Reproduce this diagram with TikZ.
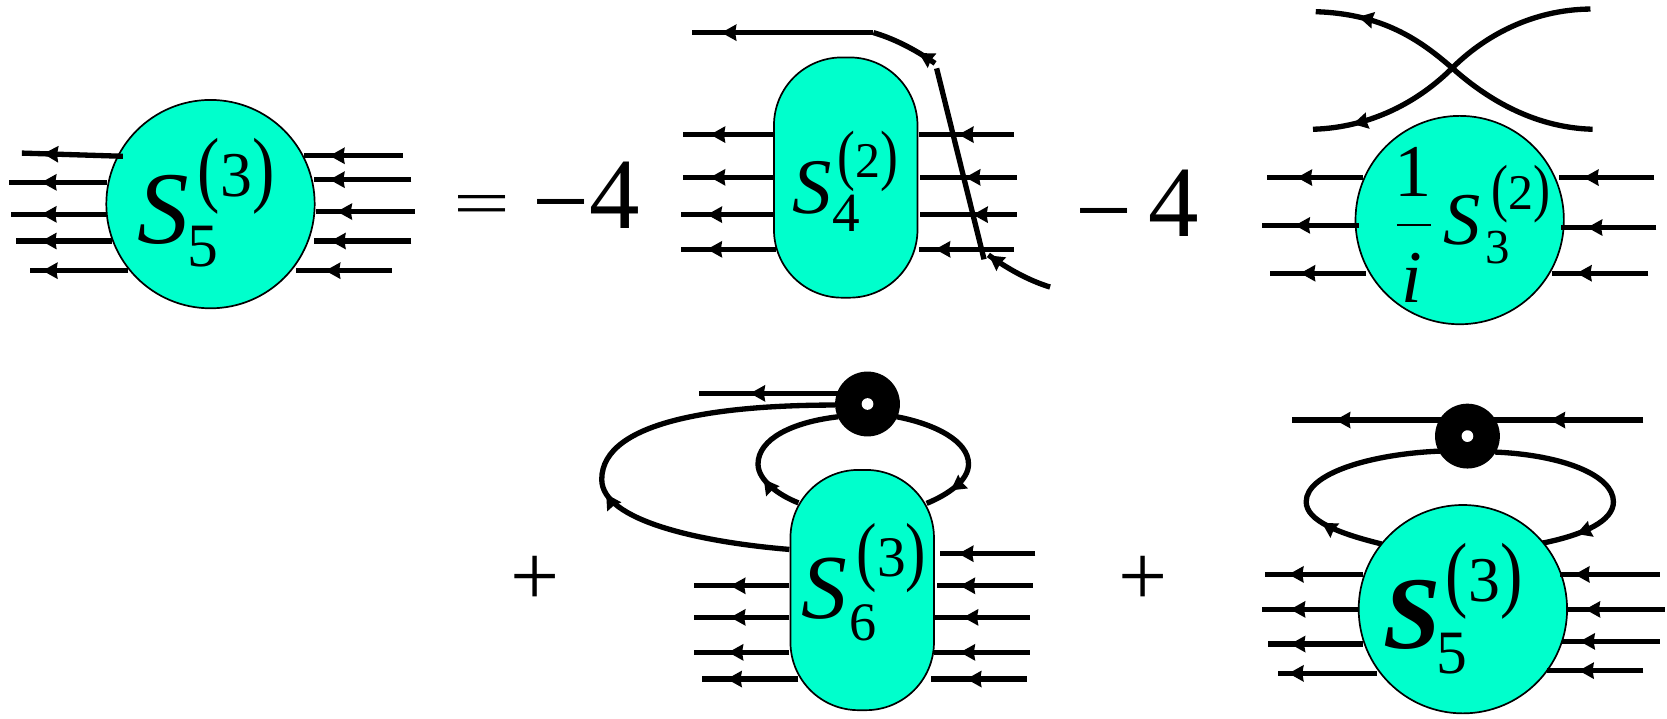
\documentclass[tikz,border=0pt]{standalone}
\usepackage{fontspec}
\setmainfont{Liberation Serif}
\usetikzlibrary{decorations.markings,arrows.meta}
\definecolor{blobc}{RGB}{0,255,204}
\tikzset{
  fline/.style={line width=5pt,draw=black},
  mk/.style={postaction={decorate},decoration={markings,mark=at position #1 with {\arrow{Stealth[length=14pt,width=15pt,inset=1pt]}}}},
  blob/.style={draw=black,line width=1.6pt,fill=blobc,inner sep=0pt},
  roundb/.style={circle,blob,minimum size=196pt},
  pillb/.style={rectangle,blob,minimum width=135pt,minimum height=226pt,rounded corners=64pt},
  dotb/.style={circle,fill=black,inner sep=0pt,minimum size=61pt},
  holeb/.style={circle,fill=white,inner sep=0pt,minimum size=11pt},
  txt/.style={anchor=base west,inner sep=0pt,outer sep=0pt,text=black}
}
\newcommand\fleg[5]{\coordinate (#1a) at (#3,#4); \coordinate (#1b) at (#2,#4); \pgfmathsetmacro\mypos{#3-#5+3}\draw[fline,mk=\mypos pt] (#1a) -- (#1b);}
\newcommand\lab[5]{\node[txt,font=\fontsize{#4}{#4}\selectfont] (#1) at (#2,#3) {#5};}
\newcommand\ilab[5]{\node[txt,font=\fontsize{#4}{#4}\selectfont\itshape] (#1) at (#2,#3) {#5};}
\newcommand\suplab[6]{\node[txt] (#1) at (#2,#3) {\fontsize{#4}{#4}\selectfont\scalebox{0.8}[1]{(}{\fontsize{#5}{#5}\selectfont #6}\scalebox{0.8}[1]{)}};}
\begin{document}
\begin{tikzpicture}[x=1pt,y=-1pt]
\useasboundingbox (0,0) rectangle (1568,676);
% ---------- loops that run behind the blobs
\coordinate (e1) at (742.5,516.8);
\coordinate (e2) at (785.4,381);
\coordinate (e3) at (751,473);
\coordinate (e4) at (788.5,392);
\coordinate (e5) at (843.4,392);
\coordinate (e6) at (871.6,473.5);
\coordinate (f1) at (1299.7,511.7);
\coordinate (f2) at (1354.6,424.3);
\coordinate (f3) at (1406.3,425.2);
\coordinate (f4) at (1450.2,511);
\draw[fline,mk=184pt] (e1) .. controls (660,510) and (566,490) .. (566,451) .. controls (566,395) and (680,381) .. (e2);
\draw[fline,mk=40pt] (e3) .. controls (733,466) and (713,452) .. (713,436.5) .. controls (713,413) and (745,397) .. (e4);
\draw[fline,mk=0.82] (e5) .. controls (880,399) and (911,415) .. (911,436.5) .. controls (911,452) and (892,465) .. (e6);
\draw[fline,mk=60pt] (f1) .. controls (1260,502) and (1228.6,490) .. (1228.6,472) .. controls (1228.6,445) and (1290,427) .. (f2);
\draw[fline,mk=0.84] (f3) .. controls (1470,428) and (1517.6,447) .. (1517.6,472) .. controls (1517.6,490) and (1490,503) .. (f4);
% ---------- blobs
\node[roundb] (b1) at (198,192) {};
\node[pillb] (b2) at (795.5,167) {};
\node[roundb] (b3) at (1373,207) {};
\node[pillb] (b4) at (811,555) {};
\node[roundb] (b5) at (1376,573) {};
% ---------- diagram 1 legs
\coordinate (s1a) at (115.6,147); \coordinate (s1b) at (20.6,144);
\draw[fline,mk=75pt] (s1a) -- (s1b);
\fleg{a2}{8}{101}{171.5}{42}
\fleg{a3}{10.7}{101}{201.6}{42}
\fleg{a4}{15.4}{105.7}{226.7}{42}
\fleg{a5}{28.5}{120.7}{254.6}{43}
\fleg{a6}{286}{379}{146.5}{313}
\fleg{a7}{295}{387}{169}{313}
\fleg{a8}{297}{390}{199}{320}
\fleg{a9}{295}{387}{226.7}{314}
\fleg{a10}{278}{368.6}{254.6}{309}
% ---------- diagram 2 legs
\fleg{c1}{642.8}{728.4}{126.6}{671}
\fleg{c2}{642.8}{728.4}{166.8}{671}
\fleg{c3}{640.3}{728.4}{201.9}{668}
\fleg{c4}{640.3}{730}{234.5}{668}
\fleg{c5}{864}{953.8}{126.6}{904.6}
\fleg{c6}{865.4}{956.3}{166.8}{911}
\fleg{c7}{865.4}{956.3}{201.9}{918}
\fleg{c8}{864}{953.8}{234.5}{882.7}
\coordinate (t1) at (650.7,30.7);
\coordinate (t2) at (821.5,30.7);
\coordinate (t3) at (879.5,59.6);
\coordinate (t4) at (881,64.3);
\coordinate (t5) at (925.6,243.9);
\coordinate (t6) at (929.7,239.8);
\coordinate (t7) at (987.7,270);
\draw[fline,mk=18pt] (t3) .. controls (860,46) and (840,36) .. (t2);
\draw[fline,mk=143pt] (t2) -- (t1);
\draw[fline] (t4) -- (t5);
\draw[fline,mk=0.99] (t7) .. controls (968,264) and (948,253) .. (t6);
% ---------- diagram 3 legs and crossing
\fleg{g1}{1192}{1282.5}{167}{1223}
\fleg{g2}{1187.5}{1278}{212}{1221}
\fleg{g3}{1195}{1285}{257}{1226}
\fleg{g4}{1466}{1556}{167}{1492.5}
\fleg{g5}{1468}{1558}{214}{1496}
\fleg{g6}{1460}{1550.5}{257}{1486}
\coordinate (x0) at (1366,64);
\coordinate (x1) at (1237.6,11);
\coordinate (x2) at (1498,121.6);
\coordinate (x3) at (1496,8.5);
\coordinate (x4) at (1235,121.6);
\draw[fline,mk=0.86] (x2) .. controls (1440,120) and (1395,90) .. (x0) .. controls (1335,37) and (1300,13) .. (x1);
\draw[fline,mk=0.87] (x3) .. controls (1440,9) and (1395,35) .. (x0) .. controls (1335,95) and (1290,120) .. (x4);
% ---------- diagram 4 legs and vertex
\coordinate (v1) at (657.8,370);
\coordinate (v2) at (788.5,370);
\draw[fline,mk=83pt] (v2) -- (v1);
\fleg{h1}{652.8}{742.5}{551}{690}
\fleg{h2}{652.8}{742.5}{580.7}{690}
\fleg{h3}{652.8}{742.5}{613.6}{688}
\fleg{h4}{660.3}{751}{638.7}{686.6}
\fleg{h5}{884}{973.8}{520.8}{904.5}
\fleg{h6}{881.6}{971.3}{551}{906}
\fleg{h7}{878.5}{968.8}{580.7}{909}
\fleg{h8}{878.5}{968.8}{613.6}{906}
\fleg{h9}{875.7}{965.7}{638.7}{912}
\node[dotb] (d1) at (816,380) {};
\node[holeb] (d1h) at (816,380) {};
% ---------- diagram 5 legs and vertex
\fleg{k0}{1380}{1545.8}{395.1}{1461}
\coordinate (k0m) at (1380,395.1);
\coordinate (k0l) at (1215,395.1);
\draw[fline,mk=124pt] (k0m) -- (k0l);
\fleg{k1}{1190}{1282.5}{540.3}{1215}
\fleg{k2}{1187.5}{1278}{573.2}{1216.6}
\fleg{k3}{1193}{1282.5}{605.8}{1216.6}
\fleg{k4}{1202.5}{1295}{633.4}{1215}
\fleg{k5}{1467.4}{1561}{540.3}{1484}
\fleg{k6}{1473.7}{1566}{573.2}{1494}
\fleg{k7}{1469}{1561}{603.3}{1489}
\fleg{k8}{1455}{1545.8}{630.8}{1488}
\node[dotb] (d2) at (1380.3,410.2) {};
\node[holeb] (d2h) at (1380.3,410.2) {};
% ---------- labels diagram 1
\ilab{s1}{129}{229}{97}{S}
\lab{s1s}{176}{251}{58}{5}
\suplab{s1p}{186}{185}{79}{60}{3}
\lab{eq}{426.5}{212}{95}{\scalebox{1}[0.65]{=}}
\lab{m1}{501}{214.7}{95}{\raisebox{-7pt}{−}4}
% ---------- labels diagram 2
\ilab{s2}{745}{200.6}{74}{S}
\lab{s2s}{783}{218}{52}{4}
\suplab{s2p}{788}{167}{63}{47}{2}
\lab{m2}{1011.4}{222}{95}{\raisebox{-8pt}{−}\kern15pt 4}
% ---------- labels diagram 3
\lab{one}{1312}{185}{70}{1}
\coordinate (fr1) at (1314,211.6);
\coordinate (fr2) at (1346,211.6);
\draw[line width=2pt] (fr1) -- (fr2);
\ilab{ii}{1318}{285}{70}{i}
\ilab{s3}{1358}{230}{70}{S}
\lab{s3s}{1397}{248}{46}{3}
\suplab{s3p}{1403}{197.5}{60}{47}{2}
% ---------- plus signs
\lab{p1}{480}{569.5}{82}{+}
\lab{p2}{1052.5}{569.5}{82}{+}
% ---------- labels diagram 4
\ilab{s4}{754}{581.6}{86}{S}
\lab{s4s}{799}{602}{51}{6}
\suplab{s4p}{806}{542.5}{72}{54}{3}
% ---------- labels diagram 5
\node[txt,font=\fontsize{97}{97}\selectfont\bfseries\itshape] (s5) at (1301,609.8) {S};
\lab{s5s}{1351}{633.4}{58}{5}
\suplab{s5p}{1360}{566}{79}{60}{3}
\end{tikzpicture}
\end{document}
